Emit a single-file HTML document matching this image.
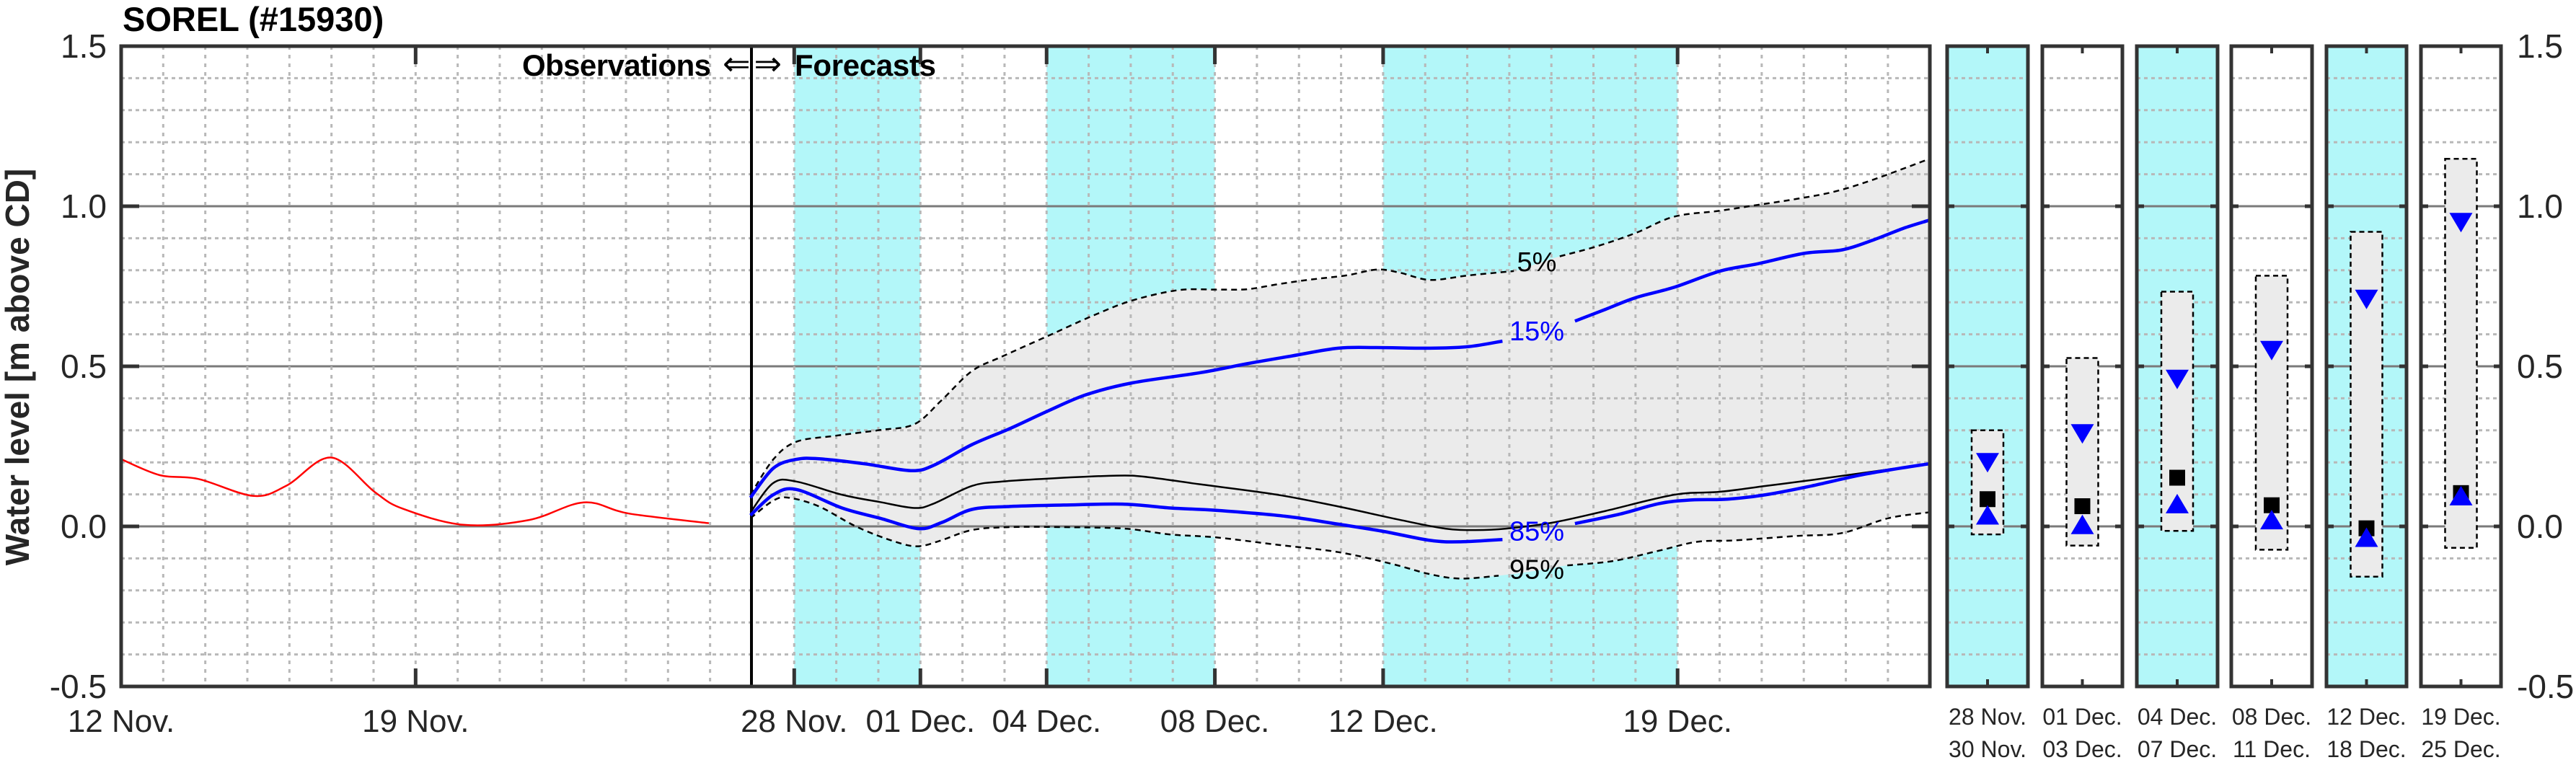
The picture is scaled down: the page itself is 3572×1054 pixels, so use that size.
<!DOCTYPE html>
<html><head><meta charset="utf-8">
<style>
html,body{margin:0;padding:0;background:#fff;}
svg{display:block;}
text{font-family:"Liberation Sans",Arial,sans-serif;}
</style></head>
<body>
<svg id="s" width="3572" height="1054" viewBox="0 0 3572 1054" xmlns="http://www.w3.org/2000/svg">
<rect width="3572" height="1054" fill="#fff"/>
<g id="g"></g>
<text x="170" y="43" font-size="47" font-weight="bold" fill="#000">SOREL (#15930)</text>
<text transform="translate(40,509) rotate(-90)" text-anchor="middle" font-size="46" font-weight="bold" fill="#262626">Water level [m above CD]</text>
<text x="986" y="105" text-anchor="end" font-size="42" font-weight="bold" fill="#000" textLength="262">Observations</text>
<text x="1043" y="104" text-anchor="middle" font-size="46" fill="#000" textLength="82">⇐⇒</text>
<text x="1102" y="105" font-size="42" font-weight="bold" fill="#000" textLength="196">Forecasts</text>
</svg>
<script>
const NS="http://www.w3.org/2000/svg";
const g=document.getElementById('g');
function el(t,a,txt){const e=document.createElementNS(NS,t);for(const k in a)e.setAttribute(k,a[k]);if(txt!==undefined)e.textContent=txt;g.appendChild(e);return e;}
const T=64,B=952,L=168,R=2676;
const Y=v=>T+(1.5-v)*444;
const X=d=>L+58.33*d;
[[16,19],[22,26],[30,37]].forEach(b=>el('rect',{x:X(b[0]),y:T,width:X(b[1])-X(b[0]),height:B-T,fill:'#b3f7f9'}));
const PX=[[2700,2812],[2832,2943],[2963,3075],[3094,3206],[3226,3337],[3357,3468]];
PX.forEach((p,i)=>{if(i%2==0)el('rect',{x:p[0],y:T,width:p[1]-p[0],height:B-T,fill:'#b3f7f9'});});
function sm(pts){let d='M'+pts[0][0].toFixed(1)+','+pts[0][1].toFixed(1);
for(let i=0;i<pts.length-1;i++){const p0=pts[Math.max(0,i-1)],p1=pts[i],p2=pts[i+1],p3=pts[Math.min(pts.length-1,i+2)];
const c1=[p1[0]+(p2[0]-p0[0])/6,p1[1]+(p2[1]-p0[1])/6],c2=[p2[0]-(p3[0]-p1[0])/6,p2[1]-(p3[1]-p1[1])/6];
d+='C'+c1.map(v=>v.toFixed(1))+' '+c2.map(v=>v.toFixed(1))+' '+p2.map(v=>v.toFixed(1));}return d;}
const Z=p=>[1030+p[0]/0.9446,180+p[1]/2.45];
const p5=[[10,1240],[40,1120],[70,1060],[120,1040],[180,1020],[225,1000],[260,920],[300,820],[340,770],[400,700],[460,630],[510,580],[570,545],[620,543],[660,542],[700,525],[740,510],[790,495],[830,475],[860,485],[900,510],[950,495],[1010,480],[1040,455],[1070,430],[1120,395],[1170,350],[1220,295],[1280,275],[1330,255],[1380,235],[1430,210],[1480,170],[1553,100]].map(Z);
const p95=[[10,1320],[40,1260],[60,1250],[100,1280],[150,1350],[200,1400],[230,1415],[260,1395],[300,1360],[350,1350],[420,1350],[500,1355],[560,1375],[620,1385],[700,1410],[780,1435],[850,1475],[900,1510],[940,1525],[990,1515],[1040,1498],[1080,1480],[1140,1465],[1200,1430],[1250,1400],[1300,1395],[1380,1380],[1440,1370],[1500,1320],[1553,1300]].map(Z);
{let d=sm(p5);const r=p95.slice().reverse();d+='L'+r[0].join(',')+sm(r).slice(1).replace(/^[^C]*/,'');d+='Z';el('path',{d:d,fill:'#ebebeb'});}
function hgrid(x1,x2){for(let k=-4;k<=14;k++){const v=k/10;if(k%5==0)continue;el('line',{x1:x1,x2:x2,y1:Y(v),y2:Y(v),stroke:'#b8b8b8','stroke-width':3,'stroke-dasharray':'5 5'});}
[0,0.5,1].forEach(v=>el('line',{x1:x1,x2:x2,y1:Y(v),y2:Y(v),stroke:'#7a7a7a','stroke-width':3}));}
hgrid(L,R);
for(let d=1;d<43;d++){if(d==15)continue;el('line',{x1:X(d),x2:X(d),y1:T,y2:B,stroke:'#b8b8b8','stroke-width':3,'stroke-dasharray':'5 7'});}
PX.forEach(p=>hgrid(p[0],p[1]));
el('line',{x1:1042,x2:1042,y1:T,y2:B,stroke:'#000','stroke-width':4});
const red=[[0,0.21],[0.92,0.16],[1.84,0.148],[3.15,0.095],[3.94,0.128],[4.99,0.215],[6.04,0.106],[6.7,0.055],[8.13,0.005],[9.7,0.02],[11.0,0.075],[12.07,0.04],[13.97,0.01]].map(p=>[X(p[0]),Y(p[1])]);
el('path',{d:sm(red),fill:'none',stroke:'#ff0000','stroke-width':2.5});
el('path',{d:sm(p5.filter((p,i)=>i<=22)),fill:'none',stroke:'#000','stroke-width':2.5,'stroke-dasharray':'8 6'});
el('path',{d:sm(p5.filter((p,i)=>i>=24)),fill:'none',stroke:'#000','stroke-width':2.5,'stroke-dasharray':'8 6'});
el('path',{d:sm(p95.filter((p,i)=>i<=19)),fill:'none',stroke:'#000','stroke-width':2.5,'stroke-dasharray':'8 6'});
el('path',{d:sm(p95.filter((p,i)=>i>=21)),fill:'none',stroke:'#000','stroke-width':2.5,'stroke-dasharray':'8 6'});
const med=[[10,1300],[40,1200],[70,1195],[130,1240],[180,1265],[225,1285],[250,1270],[300,1210],[340,1195],[400,1185],[490,1175],[530,1180],[600,1205],[700,1240],[780,1280],[860,1325],[920,1355],[960,1360],[1000,1355],[1060,1335],[1130,1295],[1220,1240],[1280,1230],[1340,1210],[1400,1190],[1470,1165],[1553,1135]].map(Z);
el('path',{d:sm(med),fill:'none',stroke:'#000','stroke-width':2.5});
const b15a=[[10,1250],[40,1150],[70,1120],[100,1118],[160,1135],[220,1158],[250,1140],[300,1070],[350,1015],[400,955],[450,900],[510,860],[600,825],[660,795],[720,768],[780,742],[830,740],[900,742],[950,737],[995,718]].map(Z);
const b15b=[[1090,650],[1130,610],[1170,570],[1220,535],[1280,480],[1330,455],[1390,420],[1440,408],[1480,375],[1520,335],[1553,308]].map(Z);
const b85a=[[10,1310],[40,1240],[70,1222],[130,1285],[180,1320],[230,1355],[260,1335],[300,1290],[350,1280],[420,1275],[500,1272],[560,1285],[620,1293],[710,1313],[780,1340],[840,1365],[900,1395],[940,1400],[995,1392]].map(Z);
const b85b=[[1090,1338],[1150,1305],[1200,1270],[1240,1258],[1290,1255],[1340,1240],[1400,1210],[1470,1170],[1553,1135]].map(Z);
[b15a,b15b,b85a,b85b].forEach(p=>el('path',{d:sm(p),fill:'none',stroke:'#0000ff','stroke-width':4.5}));
[['5%',1040,480,'#000'],['15%',1040,715,'#0000ff'],['85%',1040,1395,'#0000ff'],['95%',1040,1525,'#000']].forEach(l=>{const p=Z([l[1],l[2]]);el('text',{x:p[0],y:p[1],'text-anchor':'middle','font-size':38,fill:l[3]},l[0]);});
el('rect',{x:L,y:T,width:R-L,height:B-T,fill:'none',stroke:'#333','stroke-width':5});
[1.5,1,0.5,0,-0.5].forEach(v=>{el('line',{x1:L,x2:L+25,y1:Y(v),y2:Y(v),stroke:'#333','stroke-width':5});el('line',{x1:R-25,x2:R,y1:Y(v),y2:Y(v),stroke:'#333','stroke-width':5});
const lab=v.toFixed(1);el('text',{x:148,y:Y(v)+16,'text-anchor':'end','font-size':46,fill:'#262626'},lab);el('text',{x:3490,y:Y(v)+16,'font-size':46,fill:'#262626'},lab);});
[[0,'12 Nov.'],[7,'19 Nov.'],[16,'28 Nov.'],[19,'01 Dec.'],[22,'04 Dec.'],[26,'08 Dec.'],[30,'12 Dec.'],[37,'19 Dec.']].forEach(t=>{
el('line',{x1:X(t[0]),x2:X(t[0]),y1:B,y2:B-25,stroke:'#333','stroke-width':5});el('line',{x1:X(t[0]),x2:X(t[0]),y1:T,y2:T+25,stroke:'#333','stroke-width':5});
el('text',{x:X(t[0]),y:1015,'text-anchor':'middle','font-size':44,fill:'#262626'},t[1]);});
const PD=[[0.30,-0.025,0.20,0.085,0.035],[0.526,-0.06,0.29,0.063,0.005],[0.733,-0.014,0.46,0.152,0.07],[0.783,-0.073,0.55,0.066,0.02],[0.92,-0.157,0.71,-0.006,-0.035],[1.148,-0.067,0.95,0.104,0.095]];
const L1=['28 Nov.','01 Dec.','04 Dec.','08 Dec.','12 Dec.','19 Dec.'],L2=['30 Nov.','03 Dec.','07 Dec.','11 Dec.','18 Dec.','25 Dec.'];
PX.forEach((p,i)=>{const c=(p[0]+p[1])/2,d=PD[i];
el('rect',{x:c-22,y:Y(d[0]),width:44,height:Y(d[1])-Y(d[0]),fill:'#ebebeb',stroke:'#000','stroke-width':2.5,'stroke-dasharray':'7 5'});
const yd=Y(d[2]);el('polygon',{points:`${c-16},${yd-13} ${c+16},${yd-13} ${c},${yd+14}`,fill:'#0000ff'});
const ys=Y(d[3]);el('rect',{x:c-11,y:ys-11,width:22,height:22,fill:'#000'});
const yu=Y(d[4]);el('polygon',{points:`${c-16},${yu+13} ${c+16},${yu+13} ${c},${yu-14}`,fill:'#0000ff'});
el('rect',{x:p[0],y:T,width:p[1]-p[0],height:B-T,fill:'none',stroke:'#333','stroke-width':5});
el('line',{x1:c,x2:c,y1:T,y2:T+10,stroke:'#333','stroke-width':4});el('line',{x1:c,x2:c,y1:B,y2:B-10,stroke:'#333','stroke-width':4});
[1,0.5,0].forEach(v=>{el('line',{x1:p[0],x2:p[0]+10,y1:Y(v),y2:Y(v),stroke:'#333','stroke-width':5});el('line',{x1:p[1]-10,x2:p[1],y1:Y(v),y2:Y(v),stroke:'#333','stroke-width':5});});
el('text',{x:c,y:1005,'text-anchor':'middle','font-size':32,fill:'#262626'},L1[i]);
el('text',{x:c,y:1050,'text-anchor':'middle','font-size':32,fill:'#262626'},L2[i]);});
</script>
</body></html>
